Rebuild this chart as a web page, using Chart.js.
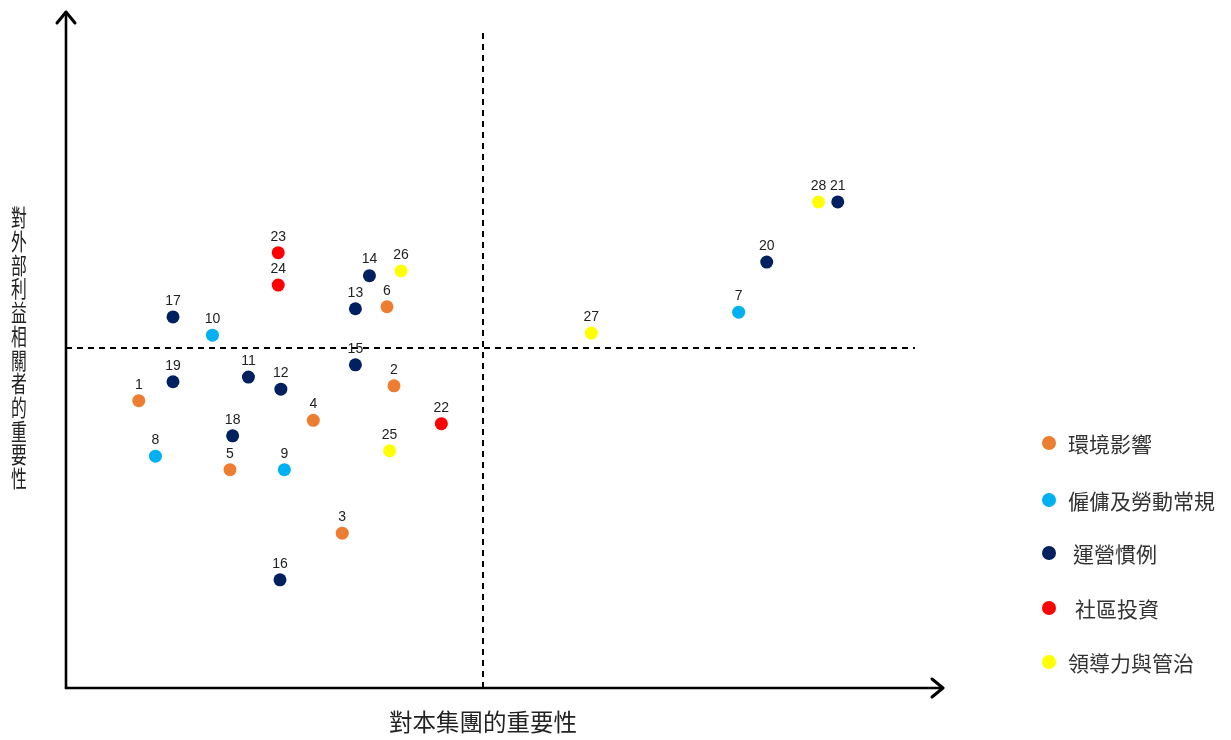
<!DOCTYPE html>
<html><head><meta charset="utf-8">
<script src="https://cdn.jsdelivr.net/npm/chart.js@4.4.0/dist/chart.umd.min.js"></script>
<style>html,body{margin:0;padding:0;background:#fff;overflow:hidden}</style>
</head><body>
<canvas id="c" width="1231" height="740"></canvas>
<script>
const categories = ['環境影響','僱傭及勞動常規','運營慣例','社區投資','領導力與管治'];
const colors = ['#ED7D31','#00B0F0','#002060','#FF0000','#FFFF00'];

const envIds = [1,2,3,4,5,6];
const envX   = [0.83,3.74,3.15,2.82,1.87,3.66];
const envY   = [4.25,4.47,2.29,3.96,3.23,5.64];

const labIds = [7,8,9,10];
const labX   = [7.67,1.02,2.49,1.67];
const labY   = [5.56,3.43,3.23,5.22];

const opsIds = [11,12,13,14,15,16,17,18,19,20,21];
const opsX   = [2.08,2.45,3.30,3.46,3.30,2.44,1.22,1.90,1.22,7.99,8.80];
const opsY   = [4.60,4.42,5.61,6.10,4.78,1.60,5.49,3.73,4.53,6.30,7.19];

const comIds = [22,23,24];
const comX   = [4.28,2.42,2.42];
const comY   = [3.91,6.44,5.96];

const govIds = [25,26,27,28];
const govX   = [3.69,3.82,5.99,8.58];
const govY   = [3.51,6.17,5.25,7.19];

const xTitle = '對本集團的重要性';
const yTitle = '對外部利益相關者的重要性';
const xDivider = 4.755, yDivider = 5.03;
const vDividerTop = 9.76, hDividerRight = 9.68;

const groups = [
  [envIds, envX, envY], [labIds, labX, labY], [opsIds, opsX, opsY],
  [comIds, comX, comY], [govIds, govX, govY]
];
const datasets = groups.map((g, i) => ({
  label: categories[i],
  ids: g[0],
  data: g[1].map((x, k) => ({x: x, y: g[2][k]})),
  backgroundColor: colors[i],
  borderWidth: 0,
  pointRadius: 6.5,
  pointHoverRadius: 6.5,
  showLine: false
}));

const decor = {
  id: 'decor',
  beforeDatasetsDraw(chart) {
    const ctx = chart.ctx, xs = chart.scales.x, ys = chart.scales.y;
    const x0 = xs.getPixelForValue(0), y0 = ys.getPixelForValue(0);
    const xEnd = xs.getPixelForValue(10), yEnd = ys.getPixelForValue(10);
    ctx.save();
    ctx.strokeStyle = '#000'; ctx.lineWidth = 2; ctx.setLineDash([6,5]);
    const xd = xs.getPixelForValue(xDivider), yd = ys.getPixelForValue(yDivider);
    ctx.beginPath(); ctx.moveTo(xd, y0); ctx.lineTo(xd, ys.getPixelForValue(vDividerTop)); ctx.stroke();
    ctx.beginPath(); ctx.moveTo(x0, yd); ctx.lineTo(xs.getPixelForValue(hDividerRight), yd); ctx.stroke();
    ctx.setLineDash([]);
    ctx.lineWidth = 2.6; ctx.lineCap = 'round'; ctx.lineJoin = 'round';
    ctx.beginPath(); ctx.moveTo(x0, y0); ctx.lineTo(xEnd, y0); ctx.stroke();
    ctx.beginPath(); ctx.moveTo(x0, y0); ctx.lineTo(x0, yEnd); ctx.stroke();
    ctx.lineWidth = 3;
    ctx.beginPath(); ctx.moveTo(xEnd-11, y0-9); ctx.lineTo(xEnd, y0); ctx.lineTo(xEnd-11, y0+9); ctx.stroke();
    ctx.beginPath(); ctx.moveTo(x0-9, yEnd+11); ctx.lineTo(x0, yEnd); ctx.lineTo(x0+9, yEnd+11); ctx.stroke();
    ctx.fillStyle = '#222';
    ctx.font = '23.5px "Noto Sans CJK TC", sans-serif';
    ctx.textAlign = 'center'; ctx.textBaseline = 'middle';
    ctx.fillText(xTitle, xd, 722);
    ctx.font = '22px "Noto Sans CJK TC", sans-serif';
    const chars = Array.from(yTitle);
    const cy = ys.getPixelForValue(yDivider), pitch = 23.7;
    chars.forEach((ch, i) => {
      ctx.save();
      ctx.translate(19, cy + (i - (chars.length-1)/2) * pitch);
      ctx.scale(0.72, 1.05);
      ctx.fillText(ch, 0, 0);
      ctx.restore();
    });
    ctx.restore();
  },
  afterDatasetsDraw(chart) {
    const ctx = chart.ctx;
    ctx.save();
    ctx.fillStyle = '#222';
    ctx.font = '14px "Liberation Sans", Arial, sans-serif';
    ctx.textAlign = 'center'; ctx.textBaseline = 'middle';
    chart.data.datasets.forEach((ds, i) => {
      chart.getDatasetMeta(i).data.forEach((pt, k) => {
        ctx.fillText(String(ds.ids[k]), pt.x, pt.y - 16);
      });
    });
    const ly = [443, 500, 553, 608, 662];
    const lx = [1068, 1068, 1073, 1075, 1068];
    ctx.font = '21px "Noto Sans CJK TC", sans-serif';
    ctx.textAlign = 'left';
    chart.data.datasets.forEach((ds, i) => {
      ctx.fillStyle = ds.backgroundColor;
      ctx.beginPath(); ctx.arc(1049, ly[i], 7, 0, Math.PI*2); ctx.fill();
      ctx.fillStyle = '#333';
      ctx.fillText(ds.label, lx[i], ly[i] + 1);
    });
    ctx.restore();
  }
};

new Chart(document.getElementById('c'), {
  type: 'scatter',
  data: { datasets: datasets },
  options: {
    responsive: false,
    animation: false,
    devicePixelRatio: 1,
    layout: { padding: { left: 66, right: 288, top: 12, bottom: 52 } },
    scales: {
      x: { type: 'linear', min: 0, max: 10, display: false },
      y: { type: 'linear', min: 0, max: 10, display: false }
    },
    plugins: { legend: { display: false }, tooltip: { enabled: false } }
  },
  plugins: [decor]
});
</script>
</body></html>
